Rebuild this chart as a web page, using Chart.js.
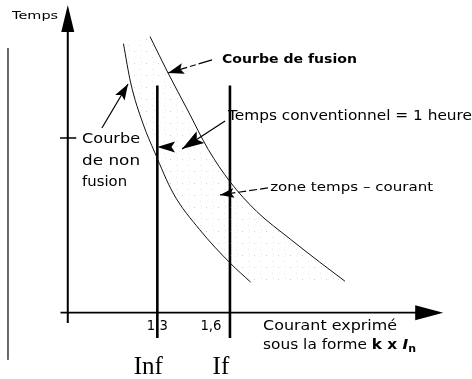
<!DOCTYPE html>
<html>
<head>
<meta charset="utf-8">
<script src="https://cdn.jsdelivr.net/npm/chart.js@4.4.0/dist/chart.umd.min.js"></script>
<style>
  html,body{margin:0;padding:0;background:#fff;}
  canvas{display:block;}
</style>
</head>
<body>
<canvas id="chart" width="472" height="379"></canvas>
<script>
// courbes fusible : k = multiple de In, t = temps (heures)
const nonFusionK = [1.16, 1.19, 1.24, 1.29, 1.365, 1.475, 1.60, 1.685];
const nonFusionT = [1.54, 1.315, 1.085, 0.915, 0.685, 0.475, 0.285, 0.175];
const fusionK = [1.27, 1.345, 1.425, 1.51, 1.60, 1.71, 1.85, 1.97, 2.075];
const fusionT = [1.58, 1.37, 1.16, 0.935, 0.75, 0.58, 0.42, 0.29, 0.18];
const currentMarks = [1.3, 1.6];
const currentLabels = ['1,3', '1,6'];
const currentNames = ['Inf', 'If'];
const timeMarks = [1];

(function(){
  const K0 = 0.93;       // origine de l'axe des courants
  const SANS = '"DejaVu Sans", sans-serif';

  const pts = (ks, ts) => ks.map((k, i) => ({x: k, y: ts[i]}));
  const nonFusion = pts(nonFusionK, nonFusionT);
  const fusion = pts(fusionK, fusionT);
  const zone = nonFusion.concat(fusion.slice().reverse());

  // motif pointillé gris clair pour la zone temps-courant
  const pc = document.createElement('canvas');
  pc.width = 12; pc.height = 12;
  const pctx = pc.getContext('2d');
  pctx.fillStyle = 'rgba(140,140,140,0.4)';
  pctx.fillRect(2, 3, 1, 1);
  pctx.fillStyle = 'rgba(160,160,160,0.3)';
  pctx.fillRect(8, 9, 1, 1);
  pctx.fillRect(9, 2, 1, 1);
  const dotPattern = pctx.createPattern(pc, 'repeat');

  const seg = (data, width, color) => ({
    data, borderColor: color || '#000', borderWidth: width, pointRadius: 0,
    showLine: true, tension: 0, fill: false
  });

  const datasets = [
    seg([{x: 0.683, y: 1.515}, {x: 0.683, y: -0.27}], 1, '#555'),
    {data: zone, showLine: true, pointRadius: 0, cubicInterpolationMode: 'monotone',
     borderColor: 'rgba(0,0,0,0)', backgroundColor: dotPattern, fill: 'shape'},
    seg([{x: K0, y: -0.06}, {x: K0, y: 1.62}], 2),
    seg([{x: 0.90, y: 0}, {x: 2.40, y: 0}], 1.7),
  ];
  timeMarks.forEach(t => datasets.push(seg([{x: 0.898, y: t}, {x: 0.965, y: t}], 1.5)));
  [nonFusion, fusion].forEach(d => datasets.push({
    data: d, showLine: true, pointRadius: 0, cubicInterpolationMode: 'monotone',
    borderColor: '#111', borderWidth: 1, fill: false
  }));
  currentMarks.forEach(k => datasets.push(seg([{x: k, y: 1.30}, {x: k, y: -0.145}], 2.6)));

  // pointe de flèche ; notch = 1 -> triangle plein
  function head(ctx, tip, tail, len, hw, notch){
    const dx = tail.x - tip.x, dy = tail.y - tip.y;
    const d = Math.hypot(dx, dy), ux = dx / d, uy = dy / d;
    const bx = tip.x + ux * len, by = tip.y + uy * len;
    const n = notch || 0.8;
    ctx.beginPath();
    ctx.moveTo(tip.x, tip.y);
    ctx.lineTo(bx - uy * hw, by + ux * hw);
    ctx.lineTo(tip.x + ux * len * n, tip.y + uy * len * n);
    ctx.lineTo(bx + uy * hw, by - ux * hw);
    ctx.closePath();
    ctx.fill();
  }

  function fitText(ctx, s, x, y, font, w, align){
    ctx.save();
    ctx.font = font;
    const m = ctx.measureText(s).width;
    const sc = w ? w / m : 1;
    let x0 = x;
    if (align === 'center') x0 = x - m * sc / 2;
    ctx.translate(x0, y);
    ctx.scale(sc, 1);
    ctx.textAlign = 'left';
    ctx.fillText(s, 0, 0);
    ctx.restore();
  }

  const annotations = {
    id: 'annotations',
    afterDatasetsDraw(chart){
      const ctx = chart.ctx, xs = chart.scales.x, ys = chart.scales.y;
      const P = (k, t) => ({x: xs.getPixelForValue(k), y: ys.getPixelForValue(t)});
      ctx.save();
      ctx.fillStyle = '#000';
      ctx.strokeStyle = '#000';

      const arrows = [
        {tail: [1.526, 1.447], tip: [1.344, 1.372], len: 16, hw: 5.5, dash: [14, 3, 6, 3]},
        {tail: [1.071, 1.057], tip: [1.179, 1.309], len: 16, hw: 5.5},
        {tail: [1.580, 1.097], tip: [1.402, 0.937], len: 22, hw: 7},
        {tail: [1.377, 0.949], tip: [1.299, 0.949], len: 18, hw: 5.5, noLine: true},
        {tail: [1.757, 0.714], tip: [1.559, 0.674], len: 14, hw: 5, dash: [8, 3]},
        {tail: [K0, 1.60], tip: [K0, 1.761], len: 27, hw: 6.5, noLine: true, notch: 1},
        {tail: [2.36, 0], tip: [2.481, 0], len: 28, hw: 7.5, noLine: true, notch: 1}
      ];
      arrows.forEach(a => {
        const tl = P(a.tail[0], a.tail[1]), tp = P(a.tip[0], a.tip[1]);
        if (!a.noLine) {
          ctx.lineWidth = 1.2;
          ctx.setLineDash(a.dash || []);
          ctx.beginPath();
          ctx.moveTo(tl.x, tl.y);
          ctx.lineTo(tp.x, tp.y);
          ctx.stroke();
          ctx.setLineDash([]);
        }
        head(ctx, tp, tl, a.len, a.hw, a.notch);
      });

      ctx.textBaseline = 'middle';
      const f14 = '14px ' + SANS;
      const labels = [
        {s: 'Temps', k: 0.70, t: 1.70, font: '11px ' + SANS, w: 46},
        {s: 'Courbe de fusion', k: 1.567, t: 1.447, font: 'bold 13px ' + SANS, w: 135},
        {s: 'Temps conventionnel = 1 heure', k: 1.592, t: 1.126, font: f14, w: 244},
        {s: 'Courbe', k: 0.989, t: 0.994, font: f14, w: 58},
        {s: 'de non', k: 0.989, t: 0.868, font: f14, w: 58},
        {s: 'fusion', k: 0.989, t: 0.748, font: f14, w: 45},
        {s: 'zone temps \u2013 courant', k: 1.766, t: 0.714, font: '13px ' + SANS, w: 163},
        {s: 'Courant exprimé', k: 1.737, t: -0.076, font: f14, w: 134}
      ];
      labels.forEach(l => {
        const p = P(l.k, l.t);
        fitText(ctx, l.s, p.x, p.y, l.font, l.w);
      });

      // graduations de courant
      const offs = [0, -19];
      currentMarks.forEach((k, i) => {
        const p = P(k, -0.076);
        fitText(ctx, currentLabels[i], p.x + offs[i], p.y, f14, 21, 'center');
        const q = P(k, -0.351);
        ctx.textBaseline = 'alphabetic';
        fitText(ctx, currentNames[i], q.x - 9, q.y, '25px "Liberation Serif", serif', 0, 'center');
        ctx.textBaseline = 'middle';
      });

      // "sous la forme k x In"
      const parts = [
        {s: 'sous la forme ', f: f14},
        {s: 'k x ', f: 'bold 14px ' + SANS},
        {s: 'I', f: 'bold italic 14px ' + SANS},
        {s: 'n', f: 'bold 10px ' + SANS, dy: 4}
      ];
      let total = 0;
      parts.forEach(p => { ctx.font = p.f; p.w = ctx.measureText(p.s).width; total += p.w; });
      const sc = 153 / total;
      const o = P(1.737, -0.19);
      let x = o.x;
      parts.forEach(p => {
        fitText(ctx, p.s, x, o.y + (p.dy || 0), p.f, p.w * sc);
        x += p.w * sc;
      });
      ctx.restore();
    }
  };

  new Chart(document.getElementById('chart'), {
    type: 'scatter',
    data: {datasets},
    options: {
      responsive: false,
      animation: false,
      devicePixelRatio: 1,
      events: [],
      layout: {padding: 0},
      plugins: {legend: {display: false}, tooltip: {enabled: false}},
      scales: {
        x: {type: 'linear', min: 0.65, max: 2.6, display: false},
        y: {type: 'linear', min: -0.38, max: 1.79, display: false}
      }
    },
    plugins: [annotations]
  });
})();
</script>
</body>
</html>
